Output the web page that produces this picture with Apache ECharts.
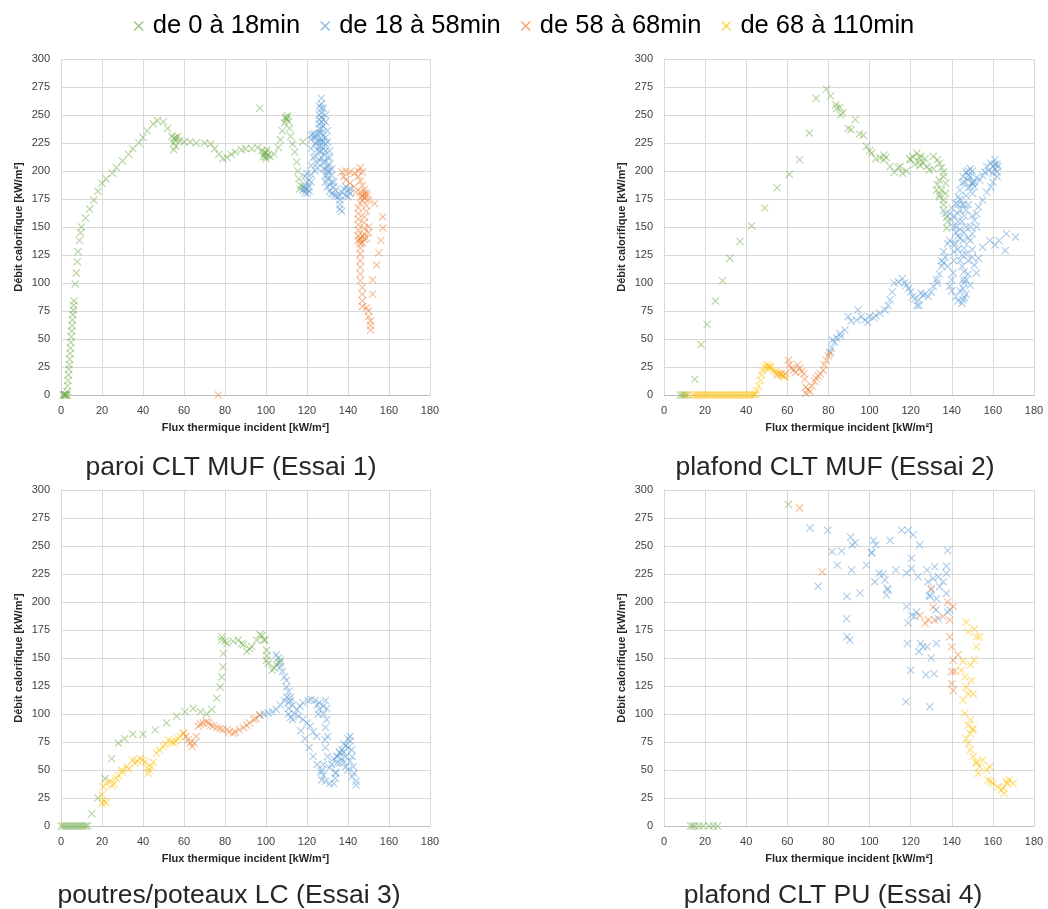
<!DOCTYPE html>
<html>
<head>
<meta charset="utf-8">
<script src="https://cdn.jsdelivr.net/npm/echarts@6/dist/echarts.min.js"></script>
<style>
  html, body { margin: 0; padding: 0; background: #fff; }
  #main { width: 1048px; height: 909px; }
</style>
</head>
<body>
<div id="main"></div>
<script>
// noms des périodes (légende)
var periodes = ['de 0 à 18min', 'de 18 à 58min', 'de 58 à 68min', 'de 68 à 110min'];
var couleurs = ['#70AD47', '#5B9BD5', '#ED7D31', '#FFC000'];
var sousTitres = ['paroi CLT MUF (Essai 1)', 'plafond CLT MUF (Essai 2)', 'poutres/poteaux LC (Essai 3)', 'plafond CLT PU (Essai 4)'];
var xTicks = [0, 20, 40, 60, 80, 100, 120, 140, 160, 180];
var yTicks = [0, 25, 50, 75, 100, 125, 150, 175, 200, 225, 250, 275, 300];

// Essai 1 : [flux, débit]
var e1Vert = [[1,0],[1.5,0],[2,0],[2.5,0],[3,0],[1.8,0.5],[2.2,0],[3,3],[3.2,8],[3.4,13],[3.6,18],[3.8,23],[4,27],[4.2,32],[4.4,37],[4.6,42],[4.8,47],[5,52],[5.2,57],[5.4,62],[5.6,67],[5.8,72],[6,76],[6.2,80],[6.4,84],[7,99],[7.5,109],[8,119],[8.3,128],[9,138],[9.5,145],[10,150],[12,158],[14,166],[16,174],[18,182],[20,189],[22,193],[25,198],[27,203],[30,209],[33,215],[35,220],[38,225],[40,230],[42,236],[45,242],[47,245],[50,244],[52,238],[54,231],[55,229],[56,228],[55,225],[56,222],[55,219],[57,231],[56,230],[58,227],[60,226],[63,226],[66,225],[70,225],[73,224],[75,220],[77,215],[79,211],[81,212],[83,215],[85,217],[88,219],[90,220],[93,220],[96,221],[98,218],[99,215],[100,213],[99.5,217],[100.5,219],[101,214],[100,211],[102,213],[104,215],[106,221],[107,228],[108,236],[109,243],[110,247],[110.5,249],[111,244],[111.5,238],[112,231],[113,224],[114,217],[115,208],[115.5,200],[116,193],[117,187],[116.5,184],[118,186],[97,256],[118,226],[110,246],[109.5,248],[100,216],[99,213]];
var e1Bleu = [[118,183],[119,181],[120,180],[119,186],[120,190],[119,195],[120,198],[121,192],[121,186],[122,190],[122,197],[122,205],[123,212],[122,220],[122,228],[122,232],[123,233],[124,230],[125,233],[124,225],[125,219],[124,213],[125,207],[124,200],[125,203],[126,210],[126,218],[126,226],[126,234],[126,242],[126,250],[126,258],[127,265],[127,260],[127,252],[128,246],[127,238],[128,232],[127,226],[128,220],[128,214],[129,208],[128,202],[129,196],[129,190],[130,186],[130,193],[130,200],[131,206],[130,212],[129,218],[129,224],[128,256],[129,250],[129,244],[130,236],[129,230],[130,226],[131,218],[131,212],[131,200],[132,196],[132,190],[133,186],[131,182],[132,180],[133,179],[134,178],[135,177],[136,174],[136,170],[136,166],[137,164],[136,178],[137,181],[138,184],[139,186],[140,183],[139,178],[140,177],[141,180],[141,184],[134,183],[133,190],[132,202],[127,228],[127,244],[126,222],[125,226],[124,232],[127,248],[127,256],[128,240],[128,226],[127,212],[128,208],[129,202],[127,218],[126,238],[126,246],[127,234],[130,204],[130,196],[131,188],[119,184],[120,184],[121,182]];
var e1Orange = [[76.7,0],[137,199],[139,200],[141,199],[143,198],[145,200],[146,203],[147,199],[145,195],[146,191],[147,187],[148,183],[149,180],[148,176],[147,174],[146,171],[145,167],[145,162],[145,157],[145,152],[145,147],[145,142],[146,138],[147,136],[146,135],[148,139],[148,144],[148,149],[148,154],[148,159],[149,164],[149,169],[150,174],[149,178],[148,180],[147,178],[146,181],[146,131],[146,126],[146,120],[146,114],[146,108],[146,102],[147,96],[147,90],[147,84],[147,79],[149,78],[150,75],[150,70],[151,66],[151,62],[151,58],[153,171],[157,159],[157,149],[156,138],[155,127],[154,116],[152,103],[152,90],[143,186],[141,189],[139,192],[138,195],[144,181],[147,142],[149,140],[150,145],[150,150],[145,138],[146,140],[147,177]];
var e1Jaune = [];

// Essai 2
var e2Vert = [[8,0],[9,0],[10,0],[11,0],[15,14],[18,45],[21,63],[25,84],[28.5,102],[32,122],[37,137],[42.6,151],[49,167],[55,185],[61,197],[66,210],[70.7,234],[74,265],[79,273],[81,267],[83.6,259],[85.6,257],[84,256],[86,250],[87,252],[89.6,238],[91,237],[93,246],[95,233],[97,232],[98.5,222],[100,218],[101,216],[103,211],[105,212],[107,214],[108,212],[107,210],[110,204],[112,199],[114,203],[115,204],[116,198],[118,200],[119.6,211],[121,213],[123,216],[124,212],[124,208],[124.5,205],[125,213],[126,207],[127,211],[128,204],[129,201],[131,202],[131,213],[133,210],[134,207],[135,203],[136,199],[136,195],[134,192],[133,188],[132.6,183],[134,179],[134,177],[136,174],[135,183],[137,189],[137,180],[136,170],[137.5,159],[136,165],[137.5,149],[138,155],[122,206],[120,210]];
var e2Bleu = [[80.7,38.7],[81.5,42],[82,49],[83,47],[84,51],[85.6,55],[86,52],[88,58],[89.6,70],[91,66],[93.7,67],[94.4,76],[96,70],[97.7,67],[99,65],[100,70],[102,69],[103,71],[105,73],[107.5,76],[109,80],[110,85],[111,92],[112,100],[114,101],[116,104],[117,100],[118,98],[119,95],[120,92],[121,88],[123,80],[124,85],[125,91],[126,89],[128.5,88],[130,92],[131,97],[132.6,103],[134,108],[135,115],[136,118],[137,123],[138,115],[140.7,109],[140,103],[139,97],[140,93],[142,88],[143,84],[145,82],[146,87],[145.5,95],[145.5,103],[146,110],[144,120],[145,115],[147,126],[146,131],[145.5,138],[143,142],[140.7,150],[140,156],[139,162],[140,167],[142,171],[143,177],[144,183],[145,189],[145.5,195],[147,199],[149,202],[148,196],[150,189],[151,186],[153.6,192],[155,196],[156,199],[157,204],[159,207],[161,210],[162,206],[162.5,204],[162,199],[162,195],[160,190],[159,186],[157,181],[155,174],[153,168],[152,162],[151,156],[152,150],[150,144],[149,138],[150,130],[150,123],[151,116],[152,109],[153,122],[155,132],[158.5,138],[161,134],[163,138],[166.6,144],[171,141],[166,129],[139,138],[137,162],[140.7,135],[142,145],[143,155],[144,165],[146,170],[147,178],[148,185],[146,160],[147,150],[143,130],[147,103],[145.5,85],[148,108],[149,98],[150,190],[152,194],[158,200],[160,198],[161,202],[148,192],[149,186],[150,180],[141,120],[141,128],[138,135],[136,128],[135,120],[133,100],[127,90],[124,80],[122,86],[142,150],[144,148],[145,155],[146,145],[148,140],[147,165],[143,170],[141,160],[144,175],[146,190],[149,195],[151,190],[144,140],[142,135],[145,125],[148,120],[146,100],[144,93],[147,90],[145,170],[143,162],[149,150],[150,160],[148,170],[161,206],[160,204],[150,200],[148,200]];
var e2Orange = [[55,18],[57,19],[58,17],[59,19],[60.5,31],[61,27],[62,24],[63,22],[64,20],[65,27],[66,24],[67,21],[68,19],[68.5,14],[69,7],[70,5],[71,3],[69,1.5],[72,8],[73.4,12],[74,15],[75,17],[76,19],[77.5,22],[78,27],[79,31],[80,35],[80.7,37]];
var e2Jaune = [[10,0],[12,0],[14,0],[15,0],[16,0],[17,0],[18,0],[19,0],[20,0],[21,0],[22,0],[23,0],[24,0],[25,0],[26,0],[27,0],[28,0],[29,0],[30,0],[31,0],[32,0],[33,0],[34,0],[35,0],[36,0],[37,0],[38,0],[39,0],[40,0],[41,0],[42,0],[43,0],[44,0],[44.5,1],[45,4],[46,8],[47,13],[47.5,18],[48,22],[49,25],[50,27],[50.5,24],[51,26],[51.5,24],[52,25],[53,22],[54,21],[55,20],[56,19],[57,18],[58,17],[59,16]];

// Essai 3
var e3Vert = [[0,0],[1,0],[2,0],[3,0],[4,0],[5,0],[6,0],[7,0],[8,0],[9,0],[10,0],[11,0],[12,0],[13,0],[15,11],[18,25],[21.5,42.5],[24.7,60],[28,74],[31,78],[35,82],[40,82],[46,86],[51.5,92],[56.4,98],[60.5,102],[64.5,105],[68,102],[71,100],[73.5,104],[76,114],[77.6,124],[78.4,133],[79,142],[79.2,154],[78.4,166],[78.5,169],[80,165],[81,163],[84,165],[86.5,166],[88,163],[89,162],[90.6,156],[92,158],[93,160],[95.5,166],[97,171],[98,170],[99,166],[99.5,166],[100.3,157],[100.5,152],[100.3,148],[101,145],[103,139],[104,141],[105,144],[106,146],[107,148]];
var e3Bleu = [[97,99],[99,100],[101,101],[103,102],[105,104],[107,108],[109,112],[110,115],[105,153],[106,150],[107,146],[107,142],[108,138],[109,133],[110,130],[110,124],[111,120],[112,115],[111,110],[111,105],[111,100],[112,97],[113,95],[114,100],[115,104],[116.6,107],[118,110],[120.6,112],[122,113],[124,112],[125,108],[125.5,100],[126,104],[128,107],[129,112],[129.6,105],[129.6,95],[129,88],[128.8,77],[129,70],[130,62],[128,55],[127,50],[127.2,41],[129,40],[131,38],[133,38],[133.7,42.5],[134,48],[134.5,56],[135,62],[136,66],[137,68],[138,73],[140,78],[141,76],[141.8,68],[142,62],[142.6,53],[143,47],[144,40],[144,36.6],[142,44],[140,50],[139,53],[138,57],[136,56],[134.5,62],[133,60],[132,55],[131,52],[124.7,80],[123,84],[121.5,89],[120,92],[118,95],[116,98],[117,85],[119,78],[121,70],[123,62],[125,55],[127,48],[134,47],[136,65],[139,72],[141,80],[112,112],[113,108],[126,110],[128,100],[130,80],[128,45],[137,60],[139,62],[141,58],[140,70],[138,66]];
var e3Orange = [[59.7,82.7],[61,80],[62,77],[63,74],[64,71],[65,74],[66,80],[67,89],[68,91],[69.4,92],[71,93],[72,92],[73,90],[74.3,89],[76,88],[77.6,87],[79,86],[81,86],[82,84],[84,83],[85,84],[87,86],[89,88],[90.6,90],[92,92],[94,95],[95,96],[97,99]];
var e3Jaune = [[20,20],[21,22],[22,21],[20,28],[20.6,35],[22,38],[24,40],[25,36],[26,38],[27,42.5],[28,45],[29.6,50],[30,48],[32,53],[33,51],[35,59],[36,56],[37,58],[38.5,60],[40,59],[41,57],[42,52],[42.6,47],[43,50],[44,53],[45,57],[46.6,65],[48,68],[50,71],[51,73],[52.4,77],[54,75],[55,74],[56,76],[57,78],[58,80],[59.7,83]];

// Essai 4
var e4Vert = [[13,0],[14,0],[15,0],[17,0],[19,0],[22,0],[24,0],[26,0],[60.5,287]];
var e4Bleu = [[71,266],[79.6,264],[75,214],[81.8,245],[84.3,233],[86.4,245.6],[89,205],[88.8,185],[89,169],[90.4,166],[90.8,258],[91.6,251],[93,253],[91.3,228.6],[95.3,208],[98.5,233],[101,244],[102,255],[103,251],[102.6,218],[104.7,225.6],[106.6,225],[107.5,219.6],[108.6,212],[108.3,206],[109,211],[110,255],[112.8,228.6],[115.6,264],[118,226],[118,196],[118.8,181.5],[117.7,111],[118.4,163],[118.8,264],[120.4,239],[120.4,230],[121.2,260],[120.4,188],[122,187],[122.8,191],[123.6,222.6],[124,155.7],[124.8,163],[124.4,251],[126,160],[128,228.6],[128.4,218],[129,206],[130,211],[131,221],[131.7,231.5],[132.3,193],[131.4,136],[127.4,135],[129.3,106.5],[128,160],[130,150],[132.5,163],[137.4,225.6],[137.4,232],[138,246],[137.4,207.7],[138,191],[139,193],[134,213.7],[135.8,218],[133.4,222.6],[132.6,203],[133.4,185],[120,139],[101,244],[129.5,205]];
var e4Orange = [[66,284],[77,227],[124.5,188],[127,181],[128.6,184],[130,212],[131,195.5],[131.7,184],[135.8,187],[138,200],[140.7,196],[139,184],[139,169],[140,160],[140.7,148],[140,138],[140,127],[140.7,121],[141.5,138],[143,153]];
var e4Jaune = [[147,182],[148,173.5],[151,176],[152,169],[152,160],[151,148],[149,144],[145.5,147],[144.7,139],[146.3,133],[147,124],[148,118],[145.5,112.5],[146.3,100.6],[149,94.6],[150.4,87],[149,82.7],[148,73.8],[149,68],[150.4,62],[152,56],[153.6,53],[152.8,47],[157,50],[158.5,53],[157.7,41],[160,38],[162.6,35],[164,32],[165.5,29],[166.6,39.6],[169.9,38],[168,41],[165,34],[155,59],[150.4,118],[149.6,130],[153.6,169],[148,90],[150,86],[147,78],[152,57],[159,40],[167,38]];

var essais = [
  [e1Vert, e1Bleu, e1Orange, e1Jaune],
  [e2Vert, e2Bleu, e2Orange, e2Jaune],
  [e3Vert, e3Bleu, e3Orange, e3Jaune],
  [e4Vert, e4Bleu, e4Orange, e4Jaune]
];

var croix = 'path://M0,1L1,0L5,4L9,0L10,1L6,5L10,9L9,10L5,6L1,10L0,9L4,5Z';
var police = '"Liberation Sans", Arial, sans-serif';

var myChart = echarts.init(document.getElementById('main'));

var grilles = [
  { left: 61, top: 59, width: 369, height: 336 },
  { left: 664, top: 59, width: 370, height: 336 },
  { left: 61, top: 490, width: 369, height: 336 },
  { left: 664, top: 490, width: 370, height: 336 }
];
var centres = [226, 830, 224, 828];
var hautsTitres = [449, 449, 877, 877];

var xAxes = [], yAxes = [], series = [], titres = [];
grilles.forEach(function (g, i) {
  xAxes.push({
    gridIndex: i, type: 'value',
    min: xTicks[0], max: xTicks[xTicks.length - 1], interval: 20,
    name: 'Flux thermique incident [kW/m²]',
    nameLocation: 'middle', nameGap: 27,
    nameTextStyle: { fontFamily: police, fontSize: 11, fontWeight: 'bold', color: '#262626' },
    axisLine: { lineStyle: { color: '#bfbfbf' } },
    axisTick: { show: false },
    axisLabel: { fontFamily: police, fontSize: 11, color: '#404040', margin: 10 },
    splitLine: { lineStyle: { color: '#d9d9d9' } }
  });
  yAxes.push({
    gridIndex: i, type: 'value',
    min: yTicks[0], max: yTicks[yTicks.length - 1], interval: 25,
    name: 'Débit calorifique [kW/m²]',
    nameLocation: 'middle', nameGap: 37, nameRotate: 90,
    nameTextStyle: { fontFamily: police, fontSize: 11, fontWeight: 'bold', color: '#262626' },
    axisLine: { show: true, lineStyle: { color: '#d9d9d9' } },
    axisTick: { show: false },
    axisLabel: { fontFamily: police, fontSize: 11, color: '#404040', margin: 11 },
    splitLine: { lineStyle: { color: '#d9d9d9' } }
  });
  titres.push({
    text: sousTitres[i], left: centres[i], top: hautsTitres[i], textAlign: 'center',
    textStyle: { fontFamily: police, fontSize: 26.5, fontWeight: 'normal', color: '#262626' }
  });
  essais[i].forEach(function (pts, k) {
    series.push({
      name: periodes[k], type: 'scatter',
      xAxisIndex: i, yAxisIndex: i,
      data: pts,
      symbol: croix, symbolSize: 8,
      itemStyle: { color: couleurs[k], opacity: 0.5 },
      emphasis: { disabled: true }
    });
  });
});

myChart.setOption({
  animation: false,
  title: titres,
  legend: {
    data: periodes.map(function (p, k) {
      return { name: p, icon: croix, itemStyle: { color: couleurs[k], opacity: 0.7 } };
    }),
    top: 8, left: 'center',
    itemWidth: 10, itemHeight: 10, itemGap: 20,
    textStyle: { fontFamily: police, fontSize: 25.5, color: '#000', padding: [0, 0, 0, 4] }
  },
  grid: grilles,
  xAxis: xAxes,
  yAxis: yAxes,
  series: series
});
</script>
</body>
</html>
